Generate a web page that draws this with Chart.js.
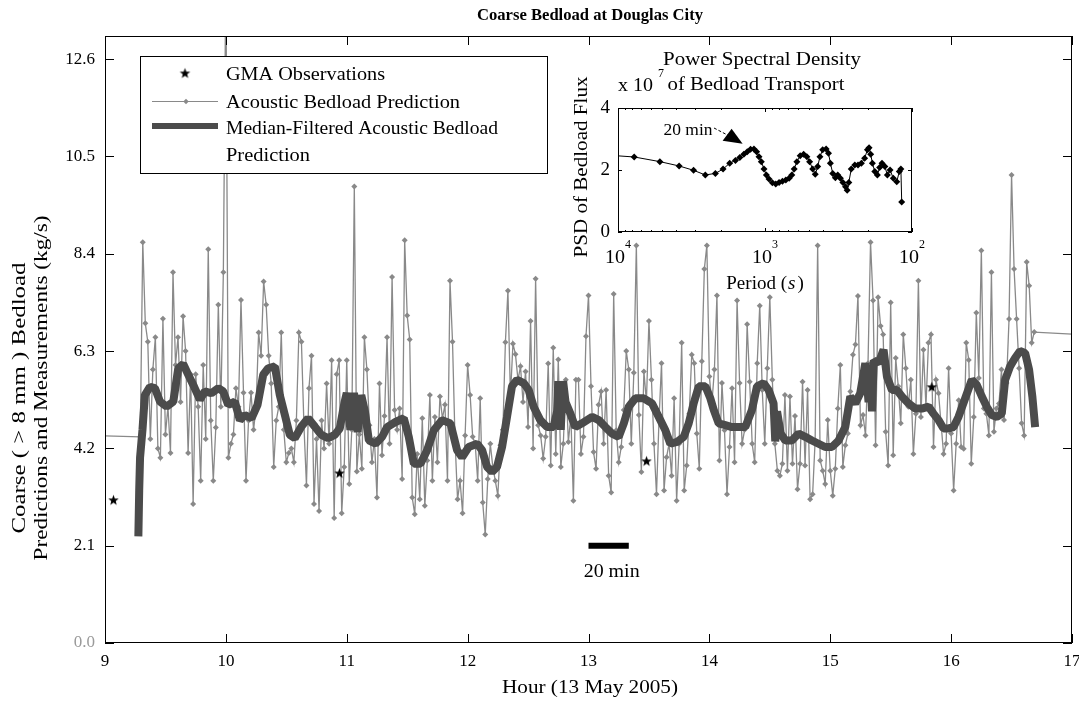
<!DOCTYPE html>
<html>
<head>
<meta charset="utf-8">
<script src="https://cdn.jsdelivr.net/npm/chart.js@4.4.1/dist/chart.umd.min.js"></script>
<style>
  html, body { margin: 0; padding: 0; background: #fff; }
  #wrap { position: relative; width: 1079px; height: 701px; }
  #main { position: absolute; left: 0; top: 0; }
  #inset { position: absolute; left: 540px; top: 40px; }
</style>
</head>
<body>
<div id="wrap">
  <canvas id="main" width="1079" height="701"></canvas>
  <canvas id="inset" width="390" height="260"></canvas>
</div>
<script>
// --- DATOS ---
// Acoustic prediction, sampled every 1/48 h (75 s) from 9:17:30
const acousticStart = 9 + 14 / 48;
const acousticStep = 1 / 48;
const acoustic = [
  // 9.29 - 10.0
  4.45, 8.65, 6.9, 6.5, 4.4, 5.9, 6.6, 4.2, 4.0, 7.0, 4.5, 5.1, 4.1, 8.0, 6.0, 6.6, 5.2, 7.05, 6.3, 4.1,
  5.8, 3.0, 5.8, 5.1, 3.5, 6.0, 4.4, 8.5, 4.8, 3.5, 4.65, 7.3, 5.1, 8.0,
  // 10 - 11
  14.5, 4.0, 4.3, 4.5, 5.5, 5.1, 7.4, 5.4, 3.5, 4.8, 5.4, 4.6, 5.1, 6.7, 6.2, 7.8, 7.3, 6.2, 5.6, 3.8,
  4.8, 5.1, 6.7, 4.6, 3.9, 4.1, 4.2, 3.9, 4.8, 6.7, 6.5, 4.7, 3.4, 5.5, 6.2, 3.0, 4.4, 2.85, 4.8, 4.2,
  5.6, 4.3, 6.1, 2.7, 5.8, 6.1, 2.8, 3.8,
  // 11 - 12
  6.1, 3.43, 4.6, 9.85, 3.7, 4.5, 3.76, 6.6, 5.9, 4.7, 3.9, 4.4, 3.14, 5.6, 4.05, 4.9, 6.6, 4.3, 7.9, 5.03,
  4.6, 5.06, 3.54, 8.69, 7.07, 6.55, 3.14, 2.78, 4.08, 3.1, 4.85, 2.96, 3.94, 5.35, 3.5, 4.88, 3.9, 5.32, 4.85, 5.14,
  3.5, 7.82, 6.5, 4.37, 3.1, 3.5, 2.8, 4.48,
  // 12 - 13
  6.0, 5.35, 4.45, 4.3, 3.5, 5.28, 3.03, 2.34, 3.54, 4.3, 3.8, 3.5, 3.18, 4.27, 4.6, 6.49, 7.6, 5.32, 6.46, 6.23,
  5.68, 5.97, 5.2, 5.86, 4.66, 6.95, 4.2, 7.86, 4.7, 4.48, 3.98, 4.45, 6.03, 3.83, 6.37, 4.08, 6.12, 3.8, 4.3, 5.68,
  4.34, 4.9, 3.07, 5.68, 5.68, 4.08, 4.45, 6.62,
  // 13 - 14
  7.5, 5.54, 4.12, 3.76, 5.14, 5.43, 4.3, 5.46, 3.61, 3.25, 7.53, 4.59, 3.9, 4.23, 5.03, 6.3, 5.9, 4.3, 5.83, 8.58,
  4.92, 3.69, 5.86, 5.21, 6.95, 5.68, 4.3, 3.21, 4.81, 6.04, 3.29, 4.01, 4.3, 3.61, 5.28, 3.07, 4.3, 6.48, 3.29, 3.83,
  4.95, 6.22, 6.04, 4.52, 3.76, 6.08, 8.07, 8.58,
  // 14 - 15
  5.75, 5.17, 5.9, 7.5, 3.94, 5.61, 4.59, 3.21, 4.23, 5.5, 3.9, 7.39, 5.61, 4.3, 4.6, 6.88, 5.64, 4.3, 3.9, 6.04,
  7.28, 5.46, 4.3, 5.93, 7.46, 5.68, 4.3, 3.72, 3.61, 3.87, 5.35, 3.72, 5.32, 3.87, 4.9, 3.32, 3.87, 5.64, 3.83, 5.46,
  3.1, 3.21, 4.37, 8.58, 3.94, 3.72, 3.43, 4.81,
  // 15 - 16
  3.72, 3.18, 3.76, 5.06, 6.0, 3.8, 4.27, 4.52, 5.43, 6.22, 6.44, 7.49, 4.7, 4.92, 4.48, 6.04, 8.65, 7.39, 4.27, 7.46,
  6.84, 6.66, 4.56, 3.83, 7.35, 4.05, 6.15, 5.54, 4.74, 6.66, 5.93, 5.1, 5.68, 4.08, 4.95, 7.82, 4.88, 6.33, 5.1, 6.48,
  6.66, 4.23, 5.68, 5.39, 4.74, 4.08, 4.3, 5.93,
  // 16 - 16.69
  4.52, 3.29, 4.3, 5.24, 4.23, 4.19, 6.48, 6.11, 3.87, 4.88, 7.13, 5.72, 8.47, 5.06, 4.95, 4.48, 8.0, 4.56, 5.06, 5.17,
  5.9, 4.81, 5.61, 6.99, 10.1, 8.07, 6.99, 5.93, 4.74, 4.48, 8.22, 7.71, 6.48, 6.71
];
// samples just outside the plotted window (line runs off the edges)
const acousticEdgeHours = [8.5, 17.5];
const acousticEdgeValues = [4.5, 6.6];

const medianHours = [
  9.276, 9.283, 9.29, 9.31, 9.33, 9.372, 9.413, 9.455, 9.51, 9.565,
  9.606, 9.647, 9.689, 9.73, 9.785, 9.826, 9.88, 9.937, 9.978, 10.019,
  10.074, 10.116, 10.157, 10.212, 10.262, 10.309, 10.35, 10.405, 10.446, 10.488,
  10.529, 10.57, 10.625, 10.68, 10.736, 10.79, 10.846, 10.9, 10.942, 10.983,
  11.0, 11.03, 11.06, 11.09, 11.12, 11.15, 11.183, 11.238, 11.293, 11.334,
  11.403, 11.472, 11.513, 11.555, 11.61, 11.665, 11.72, 11.789, 11.858, 11.913,
  11.954, 12.009, 12.078, 12.12, 12.161, 12.202, 12.243, 12.285, 12.326, 12.367,
  12.409, 12.464, 12.505, 12.546, 12.601, 12.657, 12.712, 12.74, 12.75, 12.77,
  12.79, 12.81, 12.85, 12.891, 12.946, 13.03, 13.085, 13.14, 13.195, 13.25,
  13.292, 13.333, 13.388, 13.457, 13.526, 13.581, 13.636, 13.677, 13.733, 13.788,
  13.829, 13.87, 13.912, 13.967, 14.008, 14.036, 14.077, 14.132, 14.187, 14.242,
  14.297, 14.352, 14.394, 14.449, 14.49, 14.531, 14.545, 14.56, 14.59, 14.628,
  14.683, 14.738, 14.793, 14.848, 14.903, 14.958, 15.014, 15.069, 15.124, 15.166,
  15.207, 15.248, 15.29, 15.317, 15.33, 15.345, 15.36, 15.40, 15.441, 15.469,
  15.51, 15.551, 15.593, 15.648, 15.703, 15.758, 15.813, 15.854, 15.896, 15.937,
  15.978, 16.02, 16.061, 16.116, 16.171, 16.212, 16.254, 16.295, 16.336, 16.378,
  16.419, 16.447, 16.488, 16.529, 16.57, 16.612, 16.645, 16.672, 16.695
];
const medianValues = [
  2.3, 3.3, 4.0, 4.6, 5.35, 5.53, 5.5, 5.21, 5.1, 5.21,
  5.93, 6.02, 5.79, 5.57, 5.25, 5.43, 5.39, 5.5, 5.43, 5.14,
  5.21, 4.81, 4.92, 4.85, 5.14, 5.79, 5.93, 5.97, 5.35, 4.92,
  4.49, 4.42, 4.67, 4.85, 4.67, 4.49, 4.42, 4.49, 4.63, 5.21,
  5.4, 4.6, 5.4, 4.55, 5.35, 5.0, 4.37, 4.3, 4.45, 4.66,
  4.77, 4.85, 4.45, 3.87, 3.87, 4.16, 4.59, 4.81, 4.74, 4.16,
  4.01, 4.23, 4.3, 4.16, 3.8, 3.69, 3.8, 4.23, 4.88, 5.54,
  5.68, 5.61, 5.46, 5.1, 4.81, 4.66, 4.66, 5.0, 5.65, 4.6,
  5.65, 5.2, 4.95, 4.66, 4.74, 4.88, 4.81, 4.66, 4.52, 4.45,
  4.74, 5.1, 5.28, 5.28, 5.17, 4.88, 4.59, 4.3, 4.34, 4.45,
  4.74, 5.17, 5.54, 5.54, 5.28, 5.03, 4.74, 4.7, 4.66, 4.66,
  4.66, 5.03, 5.54, 5.61, 5.46, 5.17, 4.35, 5.0, 4.52, 4.37,
  4.37, 4.52, 4.45, 4.37, 4.3, 4.23, 4.23, 4.37, 4.66, 5.32,
  5.17, 5.39, 6.04, 5.2, 6.0, 5.0, 6.1, 6.04, 6.33, 5.75,
  5.46, 5.46, 5.32, 5.17, 5.06, 5.06, 5.1, 4.95, 4.81, 4.63,
  4.63, 4.66, 4.88, 5.28, 5.68, 5.57, 5.32, 5.1, 4.92, 4.88,
  4.95, 5.68, 5.97, 6.15, 6.3, 6.26, 5.9, 5.32, 4.66
];

const gmaHours = [9.07, 10.94, 13.48, 15.84];
const gmaValues = [3.09, 3.67, 3.93, 5.53];

// 20 min scale bar
const scaleBarHours = [13.0, 13.0 + 20 / 60];
const scaleBarLevel = 2.1;

const yTickValues = [0, 2.1, 4.2, 6.3, 8.4, 10.5, 12.6];

// Inset: PSD vs period
const psdPeriods = [
  11000, 7762, 5188, 3837, 3062, 2548, 2176, 1928, 1738, 1589,
  1483, 1393, 1321, 1254, 1189, 1140, 1099, 1059, 1016, 979,
  939, 891, 845, 802, 761, 722, 685, 657, 633, 607,
  576, 546, 519, 497, 474, 455, 438, 423, 405, 384,
  370, 359, 346, 332, 320, 307, 295, 283, 276, 269,
  259, 245, 233, 221, 210, 201, 196, 191, 186, 179,
  172, 166, 160, 153, 147, 141, 134, 127, 122, 119, 117.5
];
const psdValues = [
  2.47, 2.42, 2.27, 2.13, 1.99, 1.84, 1.89, 2.03, 2.22, 2.31,
  2.40, 2.51, 2.59, 2.67, 2.68, 2.59, 2.43, 2.27, 2.03, 1.84,
  1.71, 1.59, 1.55, 1.60, 1.64, 1.68, 1.73, 1.84, 2.03, 2.27,
  2.46, 2.51, 2.43, 2.27, 2.03, 1.86, 2.11, 2.43, 2.65, 2.68,
  2.54, 2.22, 1.89, 1.75, 1.84, 1.73, 1.60, 1.46, 1.35, 1.60,
  2.03, 2.16, 2.16, 2.22, 2.38, 2.65, 2.72, 2.51, 2.22, 1.95,
  1.84, 2.08, 2.22, 2.11, 1.84, 2.00, 1.73, 1.62, 1.95, 2.03, 0.97
];
const psdYTicks = [0, 2, 4];
const psdMajorPeriods = [10000, 1000, 100];

// --- ESTILO ---
const SERIF = '"Liberation Serif", "Times New Roman", serif';
const GRAY = '#898989';
const DARK = '#4b4b4b';
Chart.defaults.font.family = SERIF;
Chart.defaults.font.size = 17;
Chart.defaults.color = '#000';

function makeStar(r) {
  const c = document.createElement('canvas');
  c.width = c.height = Math.ceil(r * 2 + 2);
  const g = c.getContext('2d');
  g.translate(c.width / 2, c.height / 2 + r * 0.1);
  g.beginPath();
  for (let i = 0; i < 10; i++) {
    const rad = i % 2 === 0 ? r : r * 0.42;
    const a = -Math.PI / 2 + i * Math.PI / 5;
    g.lineTo(rad * Math.cos(a), rad * Math.sin(a));
  }
  g.closePath();
  g.fillStyle = '#000';
  g.fill();
  return c;
}
const starImg = makeStar(5.5);

// text with optional horizontal stretch to a target width
function putText(ctx, text, x, y, font, opts = {}) {
  ctx.save();
  ctx.font = font;
  ctx.fillStyle = opts.color || '#000';
  ctx.textBaseline = opts.baseline || 'middle';
  ctx.textAlign = opts.align || 'left';
  const w = ctx.measureText(text).width;
  const sx = opts.width ? opts.width / w : 1;
  ctx.translate(x, y);
  if (opts.rotate) ctx.rotate(-Math.PI / 2);
  ctx.scale(sx, 1);
  ctx.fillText(text, 0, 0);
  ctx.restore();
}

function drawDiamond(ctx, x, y, r, color) {
  ctx.beginPath();
  ctx.moveTo(x, y - r); ctx.lineTo(x + r, y); ctx.lineTo(x, y + r); ctx.lineTo(x - r, y);
  ctx.closePath();
  ctx.fillStyle = color;
  ctx.fill();
}

// --- GRAFICA PRINCIPAL ---
const acousticPoints = acoustic.map((v, i) => ({ x: acousticStart + i * acousticStep, y: v }));
acousticPoints.unshift({ x: acousticEdgeHours[0], y: acousticEdgeValues[0] });
acousticPoints.push({ x: acousticEdgeHours[1], y: acousticEdgeValues[1] });

const mainDecor = {
  id: 'mainDecor',
  afterDraw(chart) {
    const { ctx, chartArea: a, scales: { x, y } } = chart;
    ctx.save();
    // frame + inward ticks
    ctx.strokeStyle = '#000';
    ctx.lineWidth = 1;
    ctx.strokeRect(a.left + 0.5, a.top + 0.5, a.right - a.left - 1, a.bottom - a.top - 1);
    ctx.beginPath();
    y.ticks.forEach(t => {
      const py = Math.round(y.getPixelForValue(t.value)) + 0.5;
      ctx.moveTo(a.left, py); ctx.lineTo(a.left + 9, py);
      ctx.moveTo(a.right, py); ctx.lineTo(a.right - 9, py);
    });
    x.ticks.forEach(t => {
      const px = Math.round(x.getPixelForValue(t.value)) + 0.5;
      ctx.moveTo(px, a.bottom); ctx.lineTo(px, a.bottom - 9);
      ctx.moveTo(px, a.top); ctx.lineTo(px, a.top + 9);
    });
    ctx.stroke();

    // titles
    putText(ctx, 'Coarse Bedload at Douglas City', 590, 16, 'bold 17px ' + SERIF, { align: 'center', width: 226 });
    putText(ctx, 'Coarse ( > 8 mm ) Bedload', 20, 398, '18px ' + SERIF, { align: 'center', rotate: true, width: 271 });
    putText(ctx, 'Predictions and Measurements (kg/s)', 42, 388, '18px ' + SERIF, { align: 'center', rotate: true, width: 345 });
    putText(ctx, 'Hour (13 May 2005)', 590, 688, '18px ' + SERIF, { align: 'center', width: 176 });

    // scale bar label
    const bx = (x.getPixelForValue(scaleBarHours[0]) + x.getPixelForValue(scaleBarHours[1])) / 2;
    const by = y.getPixelForValue(scaleBarLevel);
    putText(ctx, '20 min', bx + 3, by + 27, '18px ' + SERIF, { align: 'center', width: 56 });

    // legend
    ctx.fillStyle = '#fff';
    ctx.fillRect(140, 56, 408, 118);
    ctx.strokeStyle = '#000';
    ctx.lineWidth = 1;
    ctx.strokeRect(140.5, 56.5, 407, 117);
    ctx.drawImage(starImg, 185 - starImg.width / 2, 73 - starImg.height / 2);
    ctx.strokeStyle = GRAY;
    ctx.beginPath(); ctx.moveTo(152, 101.5); ctx.lineTo(218, 101.5); ctx.stroke();
    drawDiamond(ctx, 186, 101.5, 2.7, GRAY);
    ctx.strokeStyle = DARK;
    ctx.lineWidth = 6;
    ctx.beginPath(); ctx.moveTo(152, 126); ctx.lineTo(218, 126); ctx.stroke();
    const lf = '19px ' + SERIF;
    putText(ctx, 'GMA Observations', 226, 80, lf, { baseline: 'alphabetic', width: 159 });
    putText(ctx, 'Acoustic Bedload Prediction', 226, 108, lf, { baseline: 'alphabetic', width: 234 });
    putText(ctx, 'Median-Filtered Acoustic Bedload', 226, 134, lf, { baseline: 'alphabetic', width: 272 });
    putText(ctx, 'Prediction', 226, 161, lf, { baseline: 'alphabetic', width: 84 });
    ctx.restore();
  }
};

new Chart(document.getElementById('main'), {
  type: 'line',
  data: {
    datasets: [
      {
        label: 'GMA Observations',
        data: gmaHours.map((h, i) => ({ x: h, y: gmaValues[i] })),
        showLine: false,
        pointStyle: starImg,
        pointRadius: 6
      },
      {
        label: '20 min',
        data: scaleBarHours.map(h => ({ x: h, y: scaleBarLevel })),
        borderColor: '#000',
        borderWidth: 6,
        pointRadius: 0
      },
      {
        label: 'Median-Filtered Acoustic Bedload Prediction',
        data: medianHours.map((h, i) => ({ x: h, y: medianValues[i] })),
        borderColor: DARK,
        borderWidth: 8,
        borderJoinStyle: 'bevel',
        pointRadius: 0
      },
      {
        label: 'Acoustic Bedload Prediction',
        data: acousticPoints,
        borderColor: GRAY,
        borderWidth: 1.3,
        pointStyle: 'rectRot',
        pointRadius: c => (c.raw && (c.raw.x < 9 || c.raw.x > 17)) ? 0 : 3,
        pointBackgroundColor: GRAY,
        pointBorderWidth: 0
      }
    ]
  },
  options: {
    responsive: false,
    animation: false,
    devicePixelRatio: 1,
    events: [],
    layout: { padding: { top: 36, right: 6, left: 0, bottom: 0 } },
    plugins: { legend: { display: false }, tooltip: { enabled: false } },
    scales: {
      x: {
        type: 'linear', min: 9, max: 17,
        afterFit: s => { s.height = 58; s.paddingLeft = 0; s.paddingRight = 0; },
        ticks: { stepSize: 1, padding: 8, maxRotation: 0, callback: v => String(v) },
        grid: { display: false, drawTicks: false },
        border: { display: false }
      },
      y: {
        type: 'linear', min: 0, max: 13.1,
        afterFit: s => { s.width = 105; },
        afterBuildTicks: s => { s.ticks = yTickValues.map(v => ({ value: v })); },
        ticks: {
          padding: 10,
          callback: v => v.toFixed(1),
          color: c => c.tick && c.tick.value === 0 ? '#9a9a9a' : '#000'
        },
        grid: { display: false, drawTicks: false },
        border: { display: false }
      }
    }
  },
  plugins: [mainDecor]
});

// --- INSET (PSD) ---
const insetDecor = {
  id: 'insetDecor',
  beforeDatasetsDraw(chart) {
    const { ctx, chartArea: a } = chart;
    ctx.save();
    ctx.fillStyle = '#fff';
    ctx.fillRect(a.left, a.top, a.right - a.left, a.bottom - a.top);
    ctx.restore();
  },
  afterDraw(chart) {
    const { ctx, chartArea: a, scales: { x, y } } = chart;
    ctx.save();
    ctx.strokeStyle = '#000';
    ctx.lineWidth = 1;
    ctx.strokeRect(a.left + 0.5, a.top + 0.5, a.right - a.left - 1, a.bottom - a.top - 1);
    ctx.beginPath();
    psdYTicks.forEach(v => {
      const py = Math.round(y.getPixelForValue(v)) + 0.5;
      ctx.moveTo(a.left, py); ctx.lineTo(a.left + 4, py);
      ctx.moveTo(a.right, py); ctx.lineTo(a.right - 4, py);
    });
    psdMajorPeriods.forEach(p => {
      const px = Math.round(x.getPixelForValue(p)) + 0.5;
      ctx.moveTo(px, a.bottom); ctx.lineTo(px, a.bottom - 4);
      ctx.moveTo(px, a.top); ctx.lineTo(px, a.top + 4);
    });
    [100, 1000].forEach(dec => {
      for (let m = 2; m <= 9; m++) {
        const px = Math.round(x.getPixelForValue(dec * m)) + 0.5;
        ctx.moveTo(px, a.bottom); ctx.lineTo(px, a.bottom - 2);
        ctx.moveTo(px, a.top); ctx.lineTo(px, a.top + 2);
      }
    });
    ctx.stroke();

    const f = '19px ' + SERIF;
    psdYTicks.forEach(v => {
      putText(ctx, String(v), a.left - 8, y.getPixelForValue(v), f, { align: 'right' });
    });
    psdMajorPeriods.forEach(p => {
      const px = x.getPixelForValue(p);
      putText(ctx, '10', px - 3, a.bottom + 26, f, { align: 'center', width: 20 });
      putText(ctx, String(Math.round(Math.log10(p))), px + 10, a.bottom + 13, '12px ' + SERIF, { align: 'center' });
    });

    // period label with italic s
    ctx.font = f;
    const w1 = ctx.measureText('Period (').width;
    ctx.font = 'italic ' + f;
    const w2 = ctx.measureText('s').width;
    ctx.font = f;
    const w3 = ctx.measureText(')').width;
    const tot = w1 + w2 + w3 + 3;
    let px0 = 225 - tot / 2;
    putText(ctx, 'Period (', px0, 244, f);
    putText(ctx, 's', px0 + w1 + 1, 244, 'italic ' + f);
    putText(ctx, ')', px0 + w1 + w2 + 3, 244, f);

    putText(ctx, 'PSD of Bedload Flux', 42, 127, f, { align: 'center', rotate: true, width: 181 });
    putText(ctx, 'Power Spectral Density', 222, 20, f, { align: 'center', width: 198 });
    putText(ctx, 'of Bedload Transport', 216, 45, f, { align: 'center', width: 177 });
    putText(ctx, 'x 10', 78, 46, f, { width: 35 });
    putText(ctx, '7', 118, 34, '12px ' + SERIF);

    // 20 min annotation with arrow
    putText(ctx, '20 min', 148, 91, '17px ' + SERIF, { align: 'center', width: 49 });
    const tipX = x.getPixelForValue(1420), tipY = y.getPixelForValue(2.85);
    ctx.strokeStyle = '#000';
    ctx.lineWidth = 1;
    ctx.setLineDash([3, 2]);
    ctx.beginPath(); ctx.moveTo(174, 88); ctx.lineTo(tipX - 12, tipY - 7); ctx.stroke();
    ctx.setLineDash([]);
    ctx.beginPath();
    ctx.moveTo(tipX, tipY);
    ctx.lineTo(tipX - 20, tipY - 3);
    ctx.lineTo(tipX - 11, tipY - 15);
    ctx.closePath();
    ctx.fillStyle = '#000';
    ctx.fill();
    ctx.restore();
  }
};

new Chart(document.getElementById('inset'), {
  type: 'line',
  data: {
    datasets: [{
      label: 'PSD',
      data: psdPeriods.map((p, i) => ({ x: p, y: psdValues[i] })),
      borderColor: '#000',
      borderWidth: 1,
      pointStyle: 'rectRot',
      pointRadius: c => (c.raw && c.raw.x > 10000) ? 0 : 3.5,
      pointBackgroundColor: '#000',
      pointBorderWidth: 0
    }]
  },
  options: {
    responsive: false,
    animation: false,
    devicePixelRatio: 1,
    events: [],
    layout: { padding: { left: 78, top: 68, right: 18, bottom: 68 } },
    plugins: { legend: { display: false }, tooltip: { enabled: false } },
    scales: {
      x: { type: 'logarithmic', min: 100, max: 10000, reverse: true, display: false },
      y: { type: 'linear', min: 0, max: 4, display: false }
    }
  },
  plugins: [insetDecor]
});
</script>
</body>
</html>
